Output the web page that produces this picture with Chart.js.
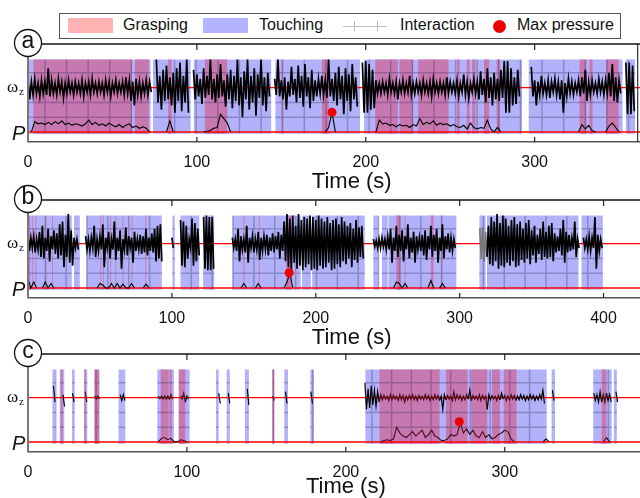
<!DOCTYPE html>
<html>
<head>
<meta charset="utf-8">
<script src="https://cdn.jsdelivr.net/npm/chart.js@4.4.0/dist/chart.umd.min.js"></script>
<style>
  body { margin: 0; width: 640px; height: 498px; overflow: hidden; background: #fff; position: relative;
         font-family: Arial, "Liberation Sans", sans-serif; color: #111; }
  canvas { position: absolute; left: 0; }
  .lg { position: absolute; }
  .txt { position: absolute; top: 16px; font-size: 16px; line-height: 18px; white-space: nowrap; }
</style>
</head>
<body>

<div class="lg" style="left:59px;top:13px;width:560px;height:24px;border:1px solid #555;"></div>
<div class="lg" style="left:68px;top:18px;width:45px;height:15px;background:#ffb3b3;"></div>
<div class="txt" style="left:123px;">Grasping</div>
<div class="lg" style="left:203px;top:18px;width:45px;height:15px;background:#b3b3ff;"></div>
<div class="txt" style="left:259px;">Touching</div>
<div class="lg" style="left:343px;top:26px;width:44px;border-top:1px solid #bbb;"></div>
<div class="lg" style="left:354px;top:21px;height:10px;border-left:1px solid #bbb;"></div>
<div class="lg" style="left:377px;top:21px;height:10px;border-left:1px solid #bbb;"></div>
<div class="txt" style="left:400px;">Interaction</div>
<div class="lg" style="left:493px;top:20px;width:13px;height:13px;border-radius:50%;background:#e00;"></div>
<div class="txt" style="left:517px;">Max pressure</div>

<canvas id="chartA" width="680" height="200" style="top:0px"></canvas>
<canvas id="chartB" width="680" height="200" style="top:156px"></canvas>
<canvas id="chartC" width="680" height="200" style="top:310px"></canvas>

<script>
const _ = null;
const timeStep = 2;          // seconds between samples of the arrays below
const omegaLevel = 3;        // where the omega_z trace sits
const pressureLevel = 0;     // where the P trace sits

// ---------- panel a ----------
const touchA = [[0,72.6],[74.2,96.3],[98.2,144],[146.5,196.6],[199,292.5],[296.5,352],[354,359.5]];
const graspA = [[3.2,61.5],[63.3,71.6],[83,85],[104.7,118],[150,150.8],[174,178],[205.6,219],[220,228],
                [231,249],[254,255.6],[259.8,261.5],[263,265],[270,273],[277.5,279.3],[326.6,330.6],
                [332.5,334.3],[342.4,349.7]];
const omegaHiA = [
  .5,.4,.6,.3,.5,.4,1.3,.5,.3,.6,
  .4,.3,.5,.3,.4,.3,.5,.3,.4,.6,
  .3,.4,.3,.5,.4,.3,.5,.3,.4,.7,
  .5,.4,.6,.4,.3,.5,.4,_,1.9,.8,
  1.2,1.5,.7,1.0,1.3,1.7,.8,1.9,_,1.2,
  .9,.6,1.3,.8,1.9,.6,.9,1.6,.5,.9,
  1.2,.8,1.9,.7,1.1,1.9,.8,1.3,.9,1.9,
  .7,1.0,_,.6,1.9,.5,.7,.4,1.4,.6,
  1.5,.8,1.6,.7,1.2,.5,.6,.8,.5,1.9,
  .6,1.0,1.4,.8,1.3,.9,1.6,.7,_,1.7,
  1.8,1.6,1.2,.5,.3,.4,.3,.6,.3,.4,
  .3,.5,.3,.8,.3,.4,.3,.5,.3,.4,
  .6,.3,.4,.3,.7,.4,.3,.5,.3,.9,
  .4,.3,.6,.4,1.1,.6,1.3,.7,1.0,.6,
  1.2,1.8,1.8,1.3,.7,1.2,_,_,_,1.4,
  .5,.4,.8,.3,.5,.4,.6,.4,.5,.3,
  .6,.4,.3,.5,.7,1.2,.4,.5,.3,.6,
  .4,.5,1.0,1.6,.7,.5,_,1.7,1.7,1.5,
  _,_
];
const omegaLoA = [
  .8,.5,.4,.6,.4,.5,.6,.4,.5,.3,
  .7,.4,.3,.5,.3,.4,.6,.3,.5,.3,
  .4,.3,.5,.3,.6,.3,.4,.3,.5,.4,
  .9,1.2,.5,.6,.4,.5,.3,_,1.0,1.5,
  .9,.8,1.2,1.7,.9,1.6,1.0,1.7,_,.8,
  .6,1.1,.7,.5,.8,1.0,.7,.6,1.3,.8,
  1.4,.9,1.2,2.0,.8,1.5,1.0,1.9,.7,1.2,
  1.6,.6,_,.5,.6,.8,1.5,.6,.5,1.0,
  .7,1.3,.6,1.4,.9,.6,.4,.5,.7,.6,
  .9,1.2,.8,1.8,.9,1.6,.8,1.3,_,1.7,
  1.7,1.5,1.4,.4,.4,.3,.5,.3,.4,.8,
  .3,.4,.3,.5,.4,.3,.5,.3,.4,.6,
  .3,.4,.3,.5,.4,.3,.4,.6,.3,.5,
  .7,.3,.4,.8,.5,1.0,.7,1.2,.8,.9,
  .7,1.7,1.7,1.2,1.1,.6,_,_,_,.6,
  1.2,.5,.4,.5,.7,.3,.5,.8,1.7,.6,
  .4,.5,.3,.6,.4,.9,.5,.3,.4,.3,
  .5,.4,.6,.9,1.0,.4,_,1.8,1.8,1.6,
  _,_
];
const pressureA = [
  _,0,.7,.55,.6,.5,.65,.5,.7,.55,
  .75,.5,.6,.45,.55,.5,.4,.55,.8,.5,
  .65,.45,.55,.4,.6,.45,.35,.5,.3,.45,
  .55,.3,.4,.25,.35,.25,0,_,_,_,
  _,0,.75,0,_,_,_,_,_,_,
  _,_,0,.05,.1,.25,.3,1.2,.9,.6,
  0,_,_,_,_,_,_,_,_,_,
  _,_,_,_,_,_,_,_,_,_,
  _,_,_,_,_,_,_,_,0,.3,
  1.33,0,_,_,_,_,_,_,_,_,
  _,_,_,0,.8,.55,.6,.45,.5,.35,
  .5,.4,.45,.3,.5,.4,.9,.5,.65,.55,
  .75,.45,.6,.5,.55,.4,.5,.35,.3,.45,
  .2,.6,.3,.2,.3,.25,.8,.2,0,.3,
  0,_,_,_,_,_,_,_,_,_,
  _,_,_,_,_,_,_,_,_,_,
  _,_,_,0,.5,.2,.45,.1,0,_,
  _,0,.4,.6,.3,0,_,_,_,_,
  _,_
];

// ---------- panel b ----------
const touchB = [[0,30.4],[32,36],[40.5,93],[100.4,102],[106,119],[121.7,129.4],[142,189.5],[190.5,196.5],
                [197.5,234],[240,244],[246,250],[250.5,297.7],[313.7,318],[319,382.6],[384.7,399.5]];
const graspB = [[0.8,1.5],[3,3.6],[5.2,5.8],[12.2,12.8],[16.8,17.4],[50.3,50.9],[52,52.6],[57.2,57.8],
                [60.7,61.3],[65.7,66.3],[72,72.6],[81.6,82.2],[149.7,150.4],[160.4,161],[179.5,183],
                [256,258.8],[261.7,262.3],[280,281.8],[287.3,287.9]];
const omegaHiB = [
  .6,.4,.5,.3,.8,1.2,.4,1.0,.5,.9,
  .7,1.3,1.5,.6,2.0,.9,.4,.3,_,_,
  .5,.3,.4,1.2,.3,.5,1.3,.4,.8,.3,
  1.5,.4,.9,.3,1.1,.5,.4,.8,.3,.6,
  .5,1.0,.4,.7,1.0,1.2,1.3,_,_,_,
  .4,_,_,1.6,1.5,1.2,.3,1.7,1.4,1.0,
  _,1.8,1.9,1.8,1.8,_,_,_,_,_,
  _,.4,.3,1.0,.5,.3,1.2,.4,.5,.3,
  .8,.4,.5,.6,.4,.7,.5,.8,.6,1.5,
  2.0,1.7,1.9,1.2,2.0,1.6,1.8,1.7,1.9,1.8,
  1.6,1.9,1.7,1.5,1.8,1.4,1.6,1.7,1.3,1.8,
  1.5,1.2,1.4,1.0,1.6,1.1,1.2,_,_,_,
  .3,.2,.3,.4,.3,.5,1.0,.4,1.2,.6,
  .9,.5,1.3,.4,.8,.5,.4,.6,.9,.5,
  1.2,.6,1.0,.4,1.3,.5,.7,.4,.3,_,
  _,_,_,_,_,_,_,1.0,1.1,.8,
  1.2,1.8,1.5,2.0,1.4,1.9,1.7,1.2,1.6,1.8,
  1.3,1.5,1.0,1.4,1.6,.9,1.2,.6,1.0,1.5,
  .8,1.2,1.4,.7,.5,1.0,1.6,.8,.6,.4,
  1.5,.3,_,.4,.3,.5,.4,1.8,.6,.3,
  _,_,_,_,_,_,_,_,_,_,
  _,_
];
const omegaLoB = [
  .5,.3,.6,.4,.9,1.0,.5,1.2,.4,.7,
  1.0,.8,1.6,.9,1.3,1.5,.3,.4,_,_,
  .4,.5,.3,.9,.5,.4,1.6,.3,1.0,.4,
  1.1,.5,1.7,.4,.8,.3,1.3,.5,.4,.7,
  .6,.8,.5,.6,1.2,1.0,1.2,_,_,_,
  .3,_,_,1.5,1.6,1.0,.3,1.5,1.2,.8,
  _,1.7,1.8,1.8,1.7,_,_,_,_,_,
  _,.3,.5,1.2,.4,.6,1.3,.3,.6,.4,
  1.1,.5,.4,.8,.5,.6,.4,1.0,.5,1.2,
  1.6,1.8,1.3,1.7,1.5,1.8,1.6,1.4,1.8,1.7,
  1.8,1.5,1.7,1.6,1.3,1.8,1.7,1.4,1.6,1.2,
  1.4,1.0,1.6,1.1,1.3,.9,1.0,_,_,_,
  .2,.3,.3,.2,.4,.4,1.3,.5,.9,.5,
  1.2,.4,1.0,.6,1.3,.4,.5,.8,1.1,.4,
  .9,.5,1.3,.5,1.0,.4,.6,.5,.3,_,
  _,_,_,_,_,_,_,1.0,1.2,.9,
  1.4,1.5,1.2,1.7,1.5,1.6,1.3,1.5,1.2,1.6,
  1.5,1.1,1.3,1.0,1.4,.8,1.3,.7,1.1,.9,
  1.0,.9,1.2,.6,.5,.8,1.3,.6,.5,.4,
  .9,.3,_,.3,.4,.5,.3,1.7,.5,.3,
  _,_,_,_,_,_,_,_,_,_,
  _,_
];
const pressureB = [
  .6,0,.4,0,_,0,.4,0,.3,0,
  _,_,_,_,_,_,_,_,_,_,
  _,_,_,_,0,.3,.2,0,0,.3,
  0,.3,0,.25,0,0,.3,0,_,_,
  0,.25,0,_,_,_,_,_,_,_,
  _,_,_,_,_,_,_,_,_,_,
  _,_,_,_,_,_,_,_,_,_,
  _,_,_,_,0,.3,0,_,_,0,
  .3,0,_,_,_,_,_,_,_,0,
  .4,1.03,0,_,_,_,_,_,_,_,
  _,_,_,_,_,_,_,_,_,_,
  _,_,_,_,_,_,_,_,_,_,
  _,_,_,_,_,_,_,0,.4,.3,
  0,.3,0,_,_,_,_,_,_,0,
  .5,0,_,0,.3,0,_,_,_,_,
  _,_,_,_,_,_,_,_,_,_,
  _,_,_,_,_,_,_,_,_,_,
  _,_,_,_,_,_,_,_,_,_,
  _,_,_,_,_,_,_,_,_,_,
  _,_,_,_,_,_,_,_,_,_,
  _,_,_,_,_,_,_,_,_,_,
  _,_
];

// ---------- panel c ----------
const touchC = [[15.4,17.8],[20,22.8],[27.7,29.4],[35.2,37.3],[57,61.2],[81.4,91.8],[94.9,101.7],[118.3,120],
                [125,127],[136.5,139],[161.3,163.6],[177.7,179.9],[212.3,326.4],[329.5,331.6],[355.7,367.3],
                [368.7,370.5]];
const graspC = [[20.5,21.8],[35.6,36.5],[41.8,44.9],[83.5,88.5],[89,90.5],[94.9,99],[153.7,155],[221.2,259],
                [263,276.6],[279,289],[292,297],[299.4,307.4],[361,364]];
const omegaHiC = [
  _,_,_,_,_,_,_,_,.8,_,
  _,.2,_,_,.3,_,_,_,.4,_,
  _,.1,.1,_,_,_,_,_,_,.2,
  .2,_,_,_,_,_,_,_,_,_,
  _,.1,.1,.1,.1,.2,_,_,.1,.3,
  .1,_,_,_,_,_,_,_,_,_,
  .3,_,_,.3,_,_,_,_,_,.6,
  _,_,_,_,_,_,_,.1,_,_,
  _,.4,_,_,_,_,_,_,_,.4,
  _,_,_,_,_,_,_,_,_,_,
  _,_,_,_,_,_,1.0,.6,.8,.5,
  .4,.2,.15,.1,.2,.15,.1,.2,.15,.1,
  .15,.2,.1,.15,.1,.2,.15,.1,.2,.15,
  .1,.2,.15,.1,.4,.2,.15,.1,.2,.5,
  .15,.1,.2,.15,.1,.2,.15,.1,.15,.3,
  .15,.1,.2,.15,.1,.2,.15,.1,.2,.15,
  .1,.2,.5,_,_,.5,_,_,_,_,
  _,_,_,_,_,_,_,_,.3,.2,
  .4,.2,.3,.2,_,.4,_,_,_,_
];
const omegaLoC = [
  _,_,_,_,_,_,_,_,.3,_,
  _,.6,_,_,.3,_,_,_,.3,_,
  _,.1,.1,_,_,_,_,_,_,.2,
  .2,_,_,_,_,_,_,_,_,_,
  _,.1,.1,.1,.1,.1,_,_,.1,.3,
  .1,_,_,_,_,_,_,_,_,_,
  .4,_,_,.4,_,_,_,_,_,.5,
  _,_,_,_,_,_,_,.2,_,_,
  _,.4,_,_,_,_,_,_,_,.4,
  _,_,_,_,_,_,_,_,_,_,
  _,_,_,_,_,_,.8,.7,.5,.6,
  .3,.15,.1,.2,.15,.1,.2,.15,.3,.15,
  .1,.15,.2,.1,.15,.1,.2,.15,.1,.2,
  .8,.15,.1,.2,.15,.1,.2,.15,.1,.2,
  .1,.15,.2,.1,.8,.15,.1,.2,.15,.1,
  .2,.15,.1,.2,.15,.1,.2,.15,.1,.2,
  .15,.1,.4,_,_,.2,_,_,_,_,
  _,_,_,_,_,_,_,_,.2,.3,
  .3,.3,.2,.3,_,.3,_,_,_,_
];
const pressureC = [
  _,_,_,_,_,_,_,_,_,_,
  _,_,_,_,_,_,_,_,_,_,
  _,_,_,_,_,_,_,_,_,_,
  _,_,_,_,_,_,_,_,_,_,
  _,0,.25,.3,.15,.25,0,0,.15,.1,
  0,_,_,_,_,_,_,_,_,_,
  _,_,_,_,_,_,_,_,_,_,
  _,_,_,_,_,_,_,_,_,_,
  _,_,_,_,_,_,_,_,_,_,
  _,_,_,_,_,_,_,_,_,_,
  _,_,_,_,_,_,_,_,_,_,
  _,0,.1,.15,.1,.2,1.0,.6,.4,.3,
  .5,.7,.4,.6,.8,.3,.5,.8,.4,.3,
  .1,.1,.2,.5,.4,.5,1.3,.6,.9,.5,
  .8,.4,.3,.7,.3,.5,.2,.3,.5,.6,
  .8,.7,.2,0,_,_,_,_,_,_,
  _,_,0,.2,0,_,_,_,_,_,
  _,_,_,_,_,_,_,_,_,_,
  _,0,.3,0,_,_,_,_,_,_
];

// max pressure markers (time, P) for a, b, c
const maxPressureTime = [180, 181.5, 271.4];
const maxPressureValue = [1.33, 1.03, 1.37];

const touchColor = '#b2b2fa';
const graspColor = '#c878b0';
const baseRed = '#ff0000';
const fontFamily = 'Arial, "Liberation Sans", sans-serif';
Chart.defaults.font.family = fontFamily;

function inBands(bands, t) {
  return bands.some(([s, e]) => t >= s && t <= e);
}

const panelDecor = {
  id: 'panelDecor',
  beforeDatasetsDraw(chart, args, o) {
    const { ctx, chartArea: ca, scales: { x, y } } = chart;
    const yTop = y.getPixelForValue(4.9), yBot = y.getPixelForValue(-0.12);
    const rect = ([s, e]) => {
      const x0 = x.getPixelForValue(s), x1 = x.getPixelForValue(e);
      return [x0, yTop, x1 - x0, yBot - yTop];
    };
    ctx.save();
    ctx.beginPath();
    ctx.rect(ca.left, ca.top, ca.right - ca.left, ca.bottom - ca.top);
    ctx.clip();
    ctx.fillStyle = touchColor;
    o.touch.forEach(b => ctx.fillRect(...rect(b)));
    ctx.fillStyle = graspColor;
    o.grasp.forEach(b => ctx.fillRect(...rect(b)));
    // grid only shows through the shaded bands
    ctx.beginPath();
    o.touch.concat(o.grasp).forEach(b => ctx.rect(...rect(b)));
    ctx.clip();
    ctx.strokeStyle = 'rgba(40,40,90,0.3)';
    ctx.lineWidth = 1.5;
    ctx.beginPath();
    for (let v = 1; v <= 4; v++) {
      const py = y.getPixelForValue(v);
      ctx.moveTo(ca.left, py); ctx.lineTo(ca.right, py);
    }
    for (let t = o.gridStart; t < x.max; t += o.gridStep) {
      const px = x.getPixelForValue(t);
      ctx.moveTo(px, yTop); ctx.lineTo(px, yBot);
    }
    ctx.stroke();
    ctx.restore();
  },
  afterDraw(chart, args, o) {
    const { ctx, chartArea: ca, scales: { x, y } } = chart;
    const line = (x0, y0, x1, y1) => { ctx.beginPath(); ctx.moveTo(x0, y0); ctx.lineTo(x1, y1); ctx.stroke(); };
    ctx.save();
    if (o.endLine != null) {
      const ex = x.getPixelForValue(o.endLine);
      ctx.strokeStyle = '#333'; ctx.lineWidth = 1.2;
      line(ex, ca.top, ex, ca.bottom);
    }
    ctx.strokeStyle = '#111'; ctx.lineWidth = 1.3;
    line(ca.left, ca.top, chart.width, ca.top);
    ctx.strokeStyle = '#777'; ctx.lineWidth = 2;
    line(ca.left, ca.top, ca.left, ca.bottom);
    ctx.strokeStyle = '#222'; ctx.lineWidth = 1.2;
    x.ticks.forEach(tk => {
      if (tk.value === 0) return;
      const px = x.getPixelForValue(tk.value);
      line(px, ca.top, px, ca.top + 6);
      line(px, ca.bottom, px, ca.bottom - 5);
    });
    // panel letter
    ctx.beginPath();
    ctx.arc(ca.left, ca.top - 1, 13.5, 0, 2 * Math.PI);
    ctx.fillStyle = '#fff'; ctx.fill();
    ctx.strokeStyle = '#111'; ctx.lineWidth = 1.3; ctx.stroke();
    ctx.fillStyle = '#111';
    ctx.textAlign = 'center'; ctx.textBaseline = 'middle';
    ctx.font = '23px ' + fontFamily;
    ctx.fillText(o.label, ca.left, ca.top - 2);
    // row labels
    const yw = y.getPixelForValue(omegaLevel), yp = y.getPixelForValue(pressureLevel);
    ctx.textAlign = 'left'; ctx.textBaseline = 'alphabetic';
    ctx.font = '17px "Liberation Serif", "DejaVu Serif", serif';
    ctx.fillText('ω', 7, yw + 4);
    ctx.font = '11px "Liberation Serif", "DejaVu Serif", serif';
    ctx.fillText('z', 19, yw + 7);
    ctx.font = 'italic 20px ' + fontFamily;
    ctx.fillText('P', 12, yp + 8);
    ctx.restore();
  }
};

function makePanel(id, p) {
  const omegaPts = [];
  p.hi.forEach((h, i) => {
    const t = i * timeStep;
    if (h === null) { omegaPts.push({ x: t, y: null }); return; }
    omegaPts.push({ x: t, y: omegaLevel + h });
    omegaPts.push({ x: t + 1, y: omegaLevel - p.lo[i] });
  });
  const pressurePts = p.pressure.map((v, i) => ({ x: i * timeStep, y: v === null ? null : pressureLevel + v }));
  const segColor = c => p.traceColor((c.p0.parsed.x + c.p1.parsed.x) / 2);

  new Chart(document.getElementById(id), {
    type: 'line',
    data: {
      datasets: [
        { data: [{ x: p.maxTime, y: pressureLevel + p.maxValue }], showLine: false, pointRadius: 4.5,
          pointBackgroundColor: '#ee0000', pointBorderWidth: 0, order: 0 },
        { data: omegaPts, borderColor: '#000', borderWidth: p.omegaWidth, pointRadius: 0, spanGaps: false,
          segment: { borderColor: segColor }, order: 1 },
        { data: pressurePts, borderColor: '#000', borderWidth: 1.1, pointRadius: 0, spanGaps: false,
          segment: { borderColor: segColor }, order: 1 },
        { data: [{ x: 0, y: omegaLevel }, { x: p.xMax, y: omegaLevel }], borderColor: baseRed,
          borderWidth: 1.3, pointRadius: 0, order: 2 },
        { data: [{ x: 0, y: pressureLevel }, { x: p.xMax, y: pressureLevel }], borderColor: baseRed,
          borderWidth: 1.6, pointRadius: 0, order: 2 }
      ]
    },
    options: {
      responsive: false,
      animation: false,
      events: [],
      layout: { padding: { top: 44, left: 28, right: 4, bottom: 58 - p.axisHeight } },
      scales: {
        x: {
          type: 'linear', min: 0, max: p.xMax,
          grid: { display: false },
          border: { display: true, color: '#555', width: 1.5 },
          ticks: { stepSize: 100, includeBounds: false, autoSkip: false, maxRotation: 0,
                   padding: 3, color: '#111', font: { size: 16 } },
          title: { display: true, text: 'Time (s)', color: '#111', font: { size: 22 }, padding: 0 },
          afterFit: s => { s.height = p.axisHeight; }
        },
        y: { type: 'linear', min: -0.68, max: 5.95, display: false }
      },
      plugins: {
        legend: { display: false },
        tooltip: { enabled: false },
        panelDecor: { label: p.label, touch: p.touch, grasp: p.grasp, gridStart: p.gridStart,
                      gridStep: p.gridStep, endLine: p.endLine }
      }
    },
    plugins: [panelDecor]
  });
}

makePanel('chartA', { label: 'a', xMax: 383.4, hi: omegaHiA, lo: omegaLoA, pressure: pressureA,
  touch: touchA, grasp: graspA, gridStart: 10, gridStep: 12.8, endLine: 361, axisHeight: 53, omegaWidth: 1.7,
  maxTime: maxPressureTime[0], maxValue: maxPressureValue[0], traceColor: () => '#000' });

makePanel('chartB', { label: 'b', xMax: 450, hi: omegaHiB, lo: omegaLoB, pressure: pressureB,
  touch: touchB, grasp: graspB, gridStart: 12, gridStep: 14.5, endLine: null, axisHeight: 53, omegaWidth: 1.7,
  maxTime: maxPressureTime[1], maxValue: maxPressureValue[1],
  traceColor: t => (t > 312 && t < 319 ? '#777' : '#000') });

makePanel('chartC', { label: 'c', xMax: 400, hi: omegaHiC, lo: omegaLoC, pressure: pressureC,
  touch: touchC, grasp: graspC, gridStart: 5.6, gridStep: 12.4, endLine: null, axisHeight: 48, omegaWidth: 1.2,
  maxTime: maxPressureTime[2], maxValue: maxPressureValue[2],
  traceColor: t => (inBands(graspC, t) ? '#4a0d1c' : '#000') });
</script>
</body>
</html>
